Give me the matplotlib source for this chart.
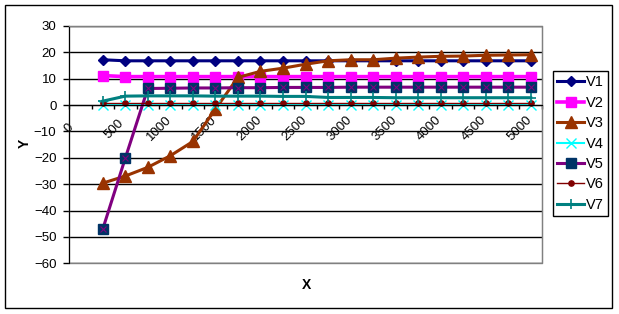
import matplotlib.pyplot as plt
from matplotlib.patches import Rectangle
from matplotlib.ticker import MultipleLocator

plt.rcParams['font.family'] = ['Liberation Sans', 'DejaVu Sans']

# data
x = [375 + 250 * i for i in range(20)]
v1 = [17.2] + [16.8] * 19
v2 = [11.2] + [10.8] * 19
v3 = [-29.6, -26.9, -23.6, -19.2, -13.8, -1.5, 10.5, 12.8, 14.0, 15.5,
      16.8, 17.2, 17.2, 17.8, 18.2, 18.5, 18.6, 18.9, 19.0, 19.1]
v4 = [0.1] * 20
v5 = [-47.0, -20.1, 6.3, 6.4, 6.5, 6.5, 6.6, 6.6, 6.7, 6.7,
      6.7, 6.8, 6.8, 6.8, 6.8, 6.8, 6.8, 6.8, 6.8, 6.8]
v6 = [0.7] * 20
v7 = [1.5, 3.4, 3.5, 3.5, 3.5, 3.4, 3.4, 3.4, 3.3, 3.3,
      2.9, 2.9, 2.9, 2.8, 2.8, 2.8, 2.8, 2.8, 2.8, 2.8]
xticks = list(range(0, 5001, 500))
yticks = list(range(-60, 31, 10))

fig = plt.figure(figsize=(6.19, 3.14), dpi=100)
ax = fig.add_axes([69 / 619, 1 - 263.3 / 314, 473 / 619, 237.3 / 314])

# x axis crosses at y = 0 (do this before tick setup, it resets ticks)
ax.spines['bottom'].set_position(('data', 0))
ax.spines['bottom'].set_color('black')
ax.spines['left'].set_color('black')
ax.spines['top'].set_color('#808080')
ax.spines['right'].set_color('#808080')
ax.add_patch(Rectangle((0, 0), 1, 1, transform=ax.transAxes, fill=False,
                       edgecolor='#808080', lw=1, zorder=2.4, clip_on=False))

ax.plot(x, v1, color='#000080', lw=2.2, marker='D', ms=5.2, label='V1')
ax.plot(x, v2, color='#FF00FF', lw=2.6, marker='s', ms=7.5, label='V2')
ax.plot(x, v3, color='#993300', lw=2.2, marker='^', ms=8.5, label='V3')
ax.plot(x, v4, color='#00FFFF', lw=1.5, marker='x', ms=7, mew=1, label='V4')
ax.plot(x, v5, color='#800080', lw=2.2, marker='s', ms=7.3, mfc='#003366',
        mec='#003366', label='V5')
ax.plot(x, v5, color='#800080', lw=0, marker='x', ms=5, mew=0.8)
ax.plot(x, v6, color='#800000', lw=1, marker='o', ms=3.8, label='V6')
ax.plot(x, v7, color='#008080', lw=2.2, marker='+', ms=7, mew=1.2, label='V7')

ax.set_xlim(0, 5250)
ax.set_ylim(-60, 30)
ax.set_yticks(yticks)
ax.set_xticks(xticks)
ax.xaxis.set_minor_locator(MultipleLocator(250))
ax.tick_params(axis='y', direction='out', length=4, width=1, pad=5, labelsize=9.5)
ax.tick_params(axis='x', which='both', direction='out', length=3, width=1,
               pad=14, labelsize=9.5, labelrotation=45)
for lbl in ax.get_xticklabels():
    lbl.set_ha('center')
    lbl.set_va('center')

ax.yaxis.grid(True, color='black', lw=1)
ax.set_axisbelow(True)

fig.text(25 / 619, 1 - 143 / 314, 'Y', rotation=90, ha='center', va='center',
         fontsize=10, fontweight='bold')
fig.text(306 / 619, 1 - 285 / 314, 'X', ha='center', va='center',
         fontsize=10, fontweight='bold')

leg = ax.legend(loc='upper left', bbox_to_anchor=(553 / 619, 1 - 71 / 314),
                bbox_transform=fig.transFigure, borderaxespad=0, fancybox=False,
                edgecolor='black', framealpha=1, fontsize=10.5, labelspacing=0.44,
                handlelength=1.8, handletextpad=0.15, borderpad=0.3)
leg.get_frame().set_linewidth(1)

fig.patches.append(Rectangle((5 / 619, 1 - 308 / 314), 607 / 619, 303 / 314,
                             transform=fig.transFigure, fill=False,
                             edgecolor='black', lw=1))

fig.savefig('out.png', dpi=100)
